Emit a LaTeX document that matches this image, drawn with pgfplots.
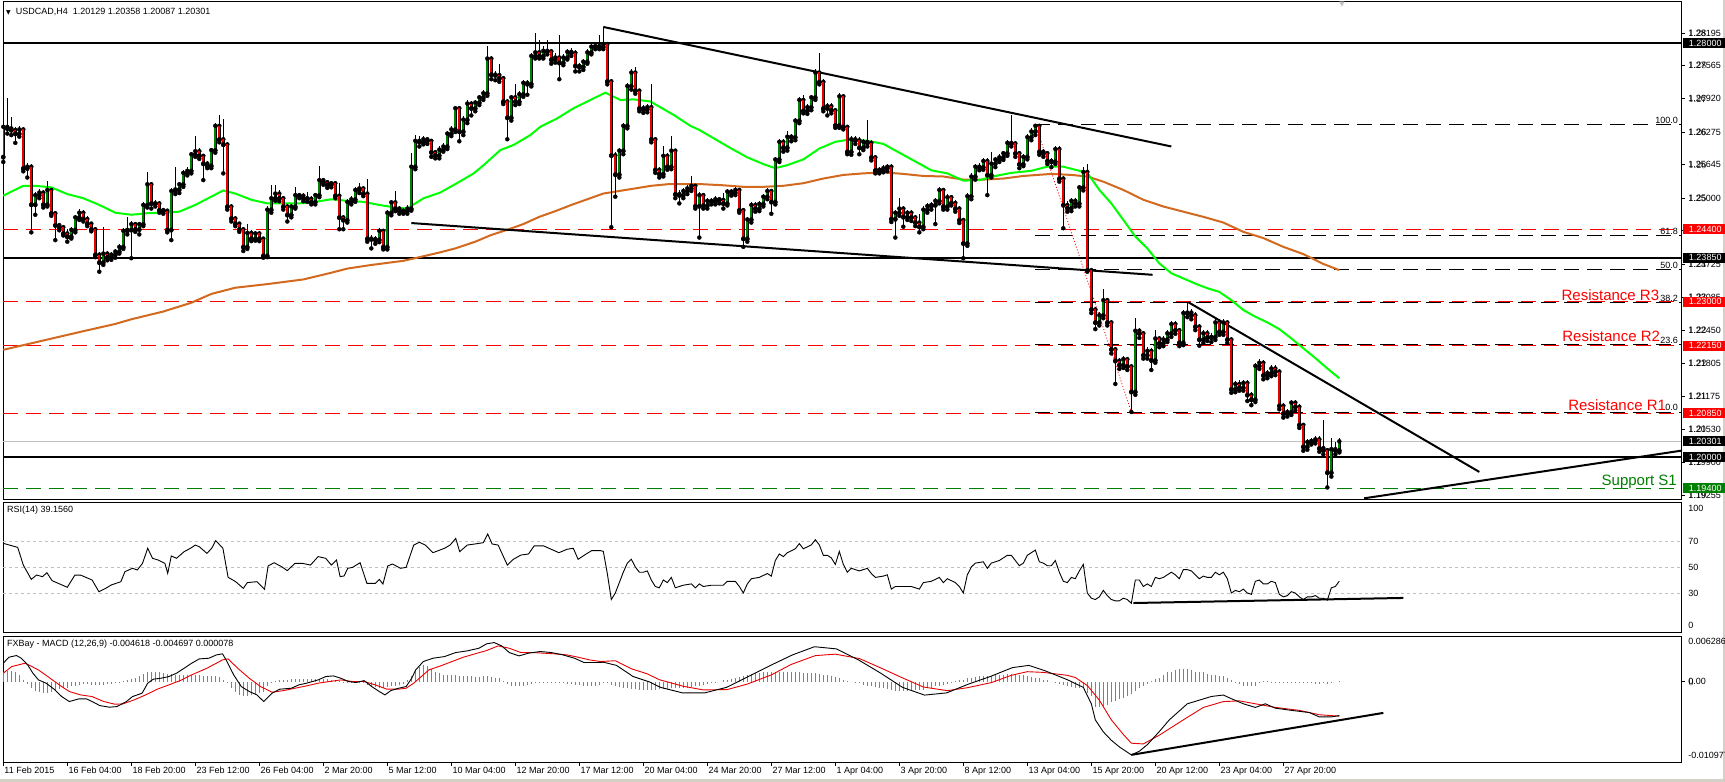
\documentclass[border=0pt]{standalone}
\usepackage{fontspec}
\setmainfont{Liberation Sans}
\newfontfamily\dejavu{DejaVu Sans}
\usepackage{pgfplots}
\usepackage{pgfplotstable}
\pgfplotsset{compat=1.18}

\definecolor{upgreen}{RGB}{0,128,0}
\definecolor{dnred}{RGB}{230,0,0}
\definecolor{malime}{RGB}{0,255,0}
\definecolor{maorange}{RGB}{210,105,30}
\definecolor{lvlred}{RGB}{255,0,0}
\definecolor{lvlgreen}{RGB}{0,128,0}
\definecolor{gridgray}{RGB}{192,192,192}
\definecolor{histgray}{RGB}{128,128,128}
\definecolor{framegray}{RGB}{212,208,200}
\newcommand{\lbl}{\fontsize{9}{10}\selectfont}

% USDCAD H4 candles: bar, open, high, low, close
\pgfplotstableread{
i o h l c
0 1.2580 1.2650 1.2570 1.2638
1 1.2638 1.2693 1.2625 1.2635
2 1.2635 1.2657 1.2622 1.2632
3 1.2632 1.2638 1.2607 1.2625
4 1.2625 1.2640 1.2619 1.2633
5 1.2633 1.2638 1.2552 1.2558
6 1.2558 1.2568 1.2540 1.2561
7 1.2561 1.2566 1.2434 1.2488
8 1.2488 1.2512 1.2468 1.2506
9 1.2506 1.2518 1.2500 1.2511
10 1.2511 1.2516 1.2482 1.2488
11 1.2488 1.2533 1.2484 1.2516
12 1.2516 1.2520 1.2466 1.2471
13 1.2471 1.2475 1.2419 1.2448
14 1.2448 1.2453 1.2438 1.2444
15 1.2444 1.2449 1.2428 1.2432
16 1.2432 1.2440 1.2416 1.2426
17 1.2426 1.2444 1.2422 1.2439
18 1.2439 1.2468 1.2434 1.2463
19 1.2463 1.2480 1.2458 1.2472
20 1.2472 1.2478 1.2455 1.2460
21 1.2460 1.2465 1.2446 1.2451
22 1.2451 1.2455 1.2436 1.2440
23 1.2440 1.2444 1.2386 1.2391
24 1.2391 1.2396 1.2358 1.2376
25 1.2376 1.2444 1.2371 1.2393
26 1.2393 1.2398 1.2380 1.2386
27 1.2386 1.2396 1.2381 1.2391
28 1.2391 1.2402 1.2385 1.2397
29 1.2397 1.2411 1.2393 1.2406
30 1.2406 1.2442 1.2402 1.2437
31 1.2437 1.2463 1.2430 1.2439
32 1.2439 1.2456 1.2384 1.2450
33 1.2450 1.2455 1.2435 1.2440
34 1.2440 1.2455 1.2430 1.2450
35 1.2450 1.2492 1.2446 1.2487
36 1.2487 1.2550 1.2482 1.2527
37 1.2527 1.2532 1.2480 1.2490
38 1.2490 1.2496 1.2484 1.2490
39 1.2490 1.2494 1.2472 1.2477
40 1.2477 1.2482 1.2470 1.2476
41 1.2476 1.2480 1.2434 1.2439
42 1.2439 1.2519 1.2419 1.2514
43 1.2514 1.2561 1.2508 1.2517
44 1.2517 1.2532 1.2510 1.2527
45 1.2527 1.2554 1.2522 1.2549
46 1.2549 1.2560 1.2544 1.2553
47 1.2553 1.2590 1.2548 1.2585
48 1.2585 1.2620 1.2580 1.2591
49 1.2591 1.2597 1.2576 1.2582
50 1.2582 1.2586 1.2535 1.2567
51 1.2567 1.2572 1.2558 1.2563
52 1.2563 1.2598 1.2558 1.2593
53 1.2593 1.2645 1.2588 1.2640
54 1.2640 1.2661 1.2608 1.2614
55 1.2614 1.2654 1.2548 1.2604
56 1.2604 1.2608 1.2478 1.2484
57 1.2484 1.2488 1.2455 1.2461
58 1.2461 1.2466 1.2446 1.2451
59 1.2451 1.2455 1.2435 1.2440
60 1.2440 1.2444 1.2398 1.2406
61 1.2406 1.2450 1.2402 1.2433
62 1.2433 1.2438 1.2417 1.2422
63 1.2422 1.2437 1.2418 1.2432
64 1.2432 1.2436 1.2417 1.2422
65 1.2422 1.2426 1.2385 1.2389
66 1.2389 1.2484 1.2386 1.2478
67 1.2478 1.2525 1.2472 1.2500
68 1.2500 1.2525 1.2495 1.2509
69 1.2509 1.2515 1.2494 1.2500
70 1.2500 1.2505 1.2478 1.2484
71 1.2484 1.2488 1.2455 1.2468
72 1.2468 1.2489 1.2463 1.2484
73 1.2484 1.2522 1.2480 1.2506
74 1.2506 1.2511 1.2500 1.2505
75 1.2505 1.2510 1.2494 1.2500
76 1.2500 1.2512 1.2493 1.2499
77 1.2499 1.2504 1.2488 1.2493
78 1.2493 1.2511 1.2488 1.2506
79 1.2506 1.2563 1.2502 1.2535
80 1.2535 1.2540 1.2526 1.2531
81 1.2531 1.2535 1.2520 1.2526
82 1.2526 1.2534 1.2521 1.2529
83 1.2529 1.2533 1.2500 1.2505
84 1.2505 1.2530 1.2440 1.2463
85 1.2463 1.2468 1.2440 1.2458
86 1.2458 1.2498 1.2453 1.2493
87 1.2493 1.2505 1.2488 1.2498
88 1.2498 1.2521 1.2493 1.2516
89 1.2516 1.2530 1.2510 1.2519
90 1.2519 1.2524 1.2504 1.2509
91 1.2509 1.2538 1.2416 1.2422
92 1.2422 1.2428 1.2403 1.2421
93 1.2421 1.2427 1.2412 1.2420
94 1.2420 1.2443 1.2415 1.2437
95 1.2437 1.2441 1.2401 1.2406
96 1.2406 1.2477 1.2401 1.2472
97 1.2472 1.2497 1.2467 1.2492
98 1.2492 1.2513 1.2475 1.2480
99 1.2480 1.2485 1.2470 1.2476
100 1.2476 1.2481 1.2470 1.2475
101 1.2475 1.2486 1.2470 1.2480
102 1.2480 1.2587 1.2476 1.2561
103 1.2561 1.2622 1.2556 1.2611
104 1.2611 1.2620 1.2600 1.2609
105 1.2609 1.2620 1.2604 1.2614
106 1.2614 1.2618 1.2605 1.2611
107 1.2611 1.2615 1.2580 1.2589
108 1.2589 1.2594 1.2577 1.2583
109 1.2583 1.2600 1.2577 1.2594
110 1.2594 1.2606 1.2590 1.2600
111 1.2600 1.2630 1.2595 1.2625
112 1.2625 1.2640 1.2620 1.2633
113 1.2633 1.2679 1.2628 1.2674
114 1.2674 1.2678 1.2610 1.2629
115 1.2629 1.2658 1.2622 1.2652
116 1.2652 1.2690 1.2645 1.2683
117 1.2683 1.2688 1.2660 1.2674
118 1.2674 1.2690 1.2668 1.2685
119 1.2685 1.2700 1.2680 1.2695
120 1.2695 1.2710 1.2690 1.2703
121 1.2703 1.2794 1.2698 1.2770
122 1.2770 1.2775 1.2730 1.2739
123 1.2739 1.2745 1.2728 1.2738
124 1.2738 1.2760 1.2725 1.2732
125 1.2732 1.2736 1.2682 1.2687
126 1.2687 1.2692 1.2614 1.2656
127 1.2656 1.2700 1.2650 1.2695
128 1.2695 1.2720 1.2680 1.2687
129 1.2687 1.2707 1.2682 1.2701
130 1.2701 1.2728 1.2696 1.2723
131 1.2723 1.2728 1.2700 1.2721
132 1.2721 1.2780 1.2716 1.2775
133 1.2775 1.2819 1.2770 1.2782
134 1.2782 1.2805 1.2770 1.2775
135 1.2775 1.2795 1.2770 1.2785
136 1.2785 1.2806 1.2778 1.2784
137 1.2784 1.2789 1.2760 1.2768
138 1.2768 1.2780 1.2762 1.2772
139 1.2772 1.2815 1.2730 1.2762
140 1.2762 1.2778 1.2757 1.2772
141 1.2772 1.2789 1.2768 1.2783
142 1.2783 1.2790 1.2775 1.2781
143 1.2781 1.2786 1.2745 1.2756
144 1.2756 1.2762 1.2745 1.2754
145 1.2754 1.2770 1.2748 1.2764
146 1.2764 1.2788 1.2760 1.2782
147 1.2782 1.2800 1.2778 1.2793
148 1.2793 1.2800 1.2788 1.2794
149 1.2794 1.2815 1.2788 1.2793
150 1.2793 1.2830 1.2788 1.2798
151 1.2798 1.2802 1.2720 1.2726
152 1.2726 1.2730 1.2444 1.2583
153 1.2583 1.2590 1.2503 1.2546
154 1.2546 1.2597 1.2540 1.2592
155 1.2592 1.2645 1.2585 1.2640
156 1.2640 1.2722 1.2635 1.2717
157 1.2717 1.2750 1.2710 1.2743
158 1.2743 1.2754 1.2702 1.2708
159 1.2708 1.2712 1.2668 1.2674
160 1.2674 1.2680 1.2665 1.2672
161 1.2672 1.2682 1.2666 1.2676
162 1.2676 1.2721 1.2608 1.2614
163 1.2614 1.2618 1.2549 1.2555
164 1.2555 1.2560 1.2540 1.2547
165 1.2547 1.2600 1.2542 1.2582
166 1.2582 1.2587 1.2555 1.2561
167 1.2561 1.2620 1.2556 1.2592
168 1.2592 1.2596 1.2500 1.2508
169 1.2508 1.2515 1.2490 1.2506
170 1.2506 1.2520 1.2500 1.2514
171 1.2514 1.2525 1.2508 1.2519
172 1.2519 1.2543 1.2514 1.2524
173 1.2524 1.2528 1.2480 1.2485
174 1.2485 1.2512 1.2424 1.2506
175 1.2506 1.2511 1.2480 1.2486
176 1.2486 1.2500 1.2480 1.2495
177 1.2495 1.2500 1.2488 1.2494
178 1.2494 1.2504 1.2488 1.2498
179 1.2498 1.2503 1.2490 1.2497
180 1.2497 1.2510 1.2480 1.2490
181 1.2490 1.2518 1.2486 1.2513
182 1.2513 1.2518 1.2505 1.2511
183 1.2511 1.2522 1.2506 1.2516
184 1.2516 1.2520 1.2472 1.2477
185 1.2477 1.2481 1.2406 1.2422
186 1.2422 1.2464 1.2416 1.2459
187 1.2459 1.2492 1.2453 1.2487
188 1.2487 1.2492 1.2474 1.2480
189 1.2480 1.2495 1.2475 1.2489
190 1.2489 1.2508 1.2484 1.2503
191 1.2503 1.2520 1.2498 1.2514
192 1.2514 1.2518 1.2470 1.2493
193 1.2493 1.2580 1.2488 1.2575
194 1.2575 1.2615 1.2570 1.2609
195 1.2609 1.2614 1.2590 1.2598
196 1.2598 1.2630 1.2592 1.2619
197 1.2619 1.2625 1.2610 1.2618
198 1.2618 1.2656 1.2612 1.2650
199 1.2650 1.2696 1.2645 1.2690
200 1.2690 1.2700 1.2664 1.2669
201 1.2669 1.2682 1.2663 1.2676
202 1.2676 1.2700 1.2670 1.2695
203 1.2695 1.2750 1.2690 1.2743
204 1.2743 1.2781 1.2720 1.2725
205 1.2725 1.2730 1.2668 1.2674
206 1.2674 1.2685 1.2660 1.2678
207 1.2678 1.2684 1.2664 1.2670
208 1.2670 1.2675 1.2636 1.2641
209 1.2641 1.2703 1.2636 1.2697
210 1.2697 1.2702 1.2633 1.2638
211 1.2638 1.2642 1.2585 1.2590
212 1.2590 1.2620 1.2584 1.2614
213 1.2614 1.2620 1.2605 1.2612
214 1.2612 1.2618 1.2585 1.2598
215 1.2598 1.2615 1.2593 1.2609
216 1.2609 1.2652 1.2600 1.2607
217 1.2607 1.2612 1.2573 1.2579
218 1.2579 1.2584 1.2548 1.2554
219 1.2554 1.2560 1.2548 1.2555
220 1.2555 1.2564 1.2550 1.2558
221 1.2558 1.2566 1.2552 1.2561
222 1.2561 1.2566 1.2454 1.2460
223 1.2460 1.2478 1.2424 1.2472
224 1.2472 1.2500 1.2466 1.2480
225 1.2480 1.2485 1.2445 1.2464
226 1.2464 1.2478 1.2458 1.2472
227 1.2472 1.2478 1.2456 1.2463
228 1.2463 1.2468 1.2446 1.2453
229 1.2453 1.2470 1.2434 1.2445
230 1.2445 1.2484 1.2440 1.2478
231 1.2478 1.2490 1.2472 1.2485
232 1.2485 1.2492 1.2478 1.2487
233 1.2487 1.2500 1.2450 1.2495
234 1.2495 1.2522 1.2490 1.2516
235 1.2516 1.2520 1.2478 1.2484
236 1.2484 1.2508 1.2478 1.2502
237 1.2502 1.2507 1.2486 1.2491
238 1.2491 1.2496 1.2474 1.2480
239 1.2480 1.2485 1.2452 1.2458
240 1.2458 1.2462 1.2384 1.2413
241 1.2413 1.2510 1.2408 1.2504
242 1.2504 1.2548 1.2498 1.2542
243 1.2542 1.2567 1.2536 1.2561
244 1.2561 1.2568 1.2554 1.2560
245 1.2560 1.2578 1.2555 1.2572
246 1.2572 1.2577 1.2506 1.2545
247 1.2545 1.2590 1.2540 1.2567
248 1.2567 1.2580 1.2560 1.2575
249 1.2575 1.2585 1.2570 1.2579
250 1.2579 1.2592 1.2574 1.2587
251 1.2587 1.2612 1.2582 1.2607
252 1.2607 1.2661 1.2600 1.2606
253 1.2606 1.2610 1.2580 1.2587
254 1.2587 1.2592 1.2558 1.2566
255 1.2566 1.2586 1.2562 1.2580
256 1.2580 1.2624 1.2575 1.2618
257 1.2618 1.2636 1.2612 1.2629
258 1.2629 1.2643 1.2622 1.2640
259 1.2640 1.2644 1.2584 1.2590
260 1.2590 1.2596 1.2580 1.2587
261 1.2587 1.2592 1.2566 1.2572
262 1.2572 1.2578 1.2560 1.2571
263 1.2571 1.2600 1.2566 1.2595
264 1.2595 1.2600 1.2532 1.2538
265 1.2538 1.2542 1.2442 1.2487
266 1.2487 1.2495 1.2474 1.2481
267 1.2481 1.2500 1.2475 1.2495
268 1.2495 1.2500 1.2484 1.2490
269 1.2490 1.2526 1.2484 1.2521
270 1.2521 1.2560 1.2515 1.2551
271 1.2551 1.2567 1.2358 1.2361
272 1.2361 1.2365 1.2278 1.2285
273 1.2285 1.2290 1.2247 1.2260
274 1.2260 1.2280 1.2254 1.2274
275 1.2274 1.2325 1.2268 1.2303
276 1.2303 1.2307 1.2254 1.2260
277 1.2260 1.2264 1.2200 1.2208
278 1.2208 1.2212 1.2141 1.2186
279 1.2186 1.2192 1.2170 1.2178
280 1.2178 1.2195 1.2172 1.2189
281 1.2189 1.2194 1.2168 1.2175
282 1.2175 1.2180 1.2087 1.2126
283 1.2126 1.2268 1.2120 1.2244
284 1.2244 1.2250 1.2230 1.2239
285 1.2239 1.2244 1.2190 1.2197
286 1.2197 1.2212 1.2190 1.2205
287 1.2205 1.2210 1.2168 1.2187
288 1.2187 1.2245 1.2182 1.2229
289 1.2229 1.2234 1.2212 1.2220
290 1.2220 1.2233 1.2214 1.2227
291 1.2227 1.2245 1.2222 1.2239
292 1.2239 1.2263 1.2232 1.2257
293 1.2257 1.2262 1.2238 1.2245
294 1.2245 1.2250 1.2214 1.2221
295 1.2221 1.2284 1.2216 1.2278
296 1.2278 1.2300 1.2270 1.2279
297 1.2279 1.2285 1.2266 1.2274
298 1.2274 1.2280 1.2245 1.2252
299 1.2252 1.2257 1.2215 1.2227
300 1.2227 1.2246 1.2220 1.2239
301 1.2239 1.2245 1.2224 1.2231
302 1.2231 1.2240 1.2222 1.2232
303 1.2232 1.2266 1.2226 1.2260
304 1.2260 1.2266 1.2236 1.2242
305 1.2242 1.2266 1.2236 1.2260
306 1.2260 1.2265 1.2220 1.2227
307 1.2227 1.2232 1.2124 1.2131
308 1.2131 1.2147 1.2125 1.2141
309 1.2141 1.2148 1.2128 1.2134
310 1.2134 1.2149 1.2128 1.2143
311 1.2143 1.2148 1.2108 1.2120
312 1.2120 1.2126 1.2100 1.2111
313 1.2111 1.2182 1.2106 1.2176
314 1.2176 1.2189 1.2170 1.2182
315 1.2182 1.2187 1.2150 1.2158
316 1.2158 1.2168 1.2152 1.2162
317 1.2162 1.2177 1.2156 1.2171
318 1.2171 1.2177 1.2158 1.2165
319 1.2165 1.2170 1.2092 1.2099
320 1.2099 1.2104 1.2076 1.2084
321 1.2084 1.2093 1.2078 1.2087
322 1.2087 1.2110 1.2081 1.2105
323 1.2105 1.2110 1.2090 1.2097
324 1.2097 1.2102 1.2056 1.2062
325 1.2062 1.2066 1.2012 1.2020
326 1.2020 1.2035 1.2014 1.2029
327 1.2029 1.2037 1.2024 1.2031
328 1.2031 1.2040 1.2026 1.2034
329 1.2034 1.2040 1.2010 1.2017
330 1.2017 1.2071 1.2005 1.2013
331 1.2013 1.2018 1.1941 1.1970
332 1.1970 1.2036 1.1962 1.2015
333 1.2015 1.2028 1.2005 1.2013
334 1.20129 1.20358 1.20087 1.20301
}\candles

\pgfplotsset{
  mtpanel/.style={
    scale only axis, width=1678pt, anchor=north west,
    xmin=-0.075, xmax=419.425,
    axis line style={black, line width=0.8pt},
    clip mode=individual,
    xtick=\empty, ytick=\empty,
    tick style={black, line width=0.8pt},
    tick align=outside, major tick length=4pt,
  },
  hline/.style={line width=#1, forget plot},
  wick/.style={only marks, mark=none, forget plot,
    error bars/.cd, y dir=plus, y explicit, error mark=none,
    error bar style={black, line width=0.9pt}},
  body/.style 2 args={only marks, mark=none, forget plot,
    error bars/.cd, y dir=plus, y explicit, error mark=none,
    error bar style={#1, line width=#2}},
}
\tikzset{
  pricebox/.style={anchor=west, inner xsep=4.7pt, inner ysep=0pt,
    minimum width=44pt, minimum height=10pt, text height=6.5pt, text depth=0pt,
    fill=#1, text=white, font=\lbl, xshift=2pt},
  mtdash/.style={dash pattern=on 15pt off 8pt},
}

\begin{document}
\begin{tikzpicture}
\path[use as bounding box, fill=white] (0pt,0pt) rectangle (1725pt,-782pt);
\fill[framegray] (0pt,-779pt) rectangle (1725pt,-782pt);
\fill[framegray] (1723pt,0pt) rectangle (1725pt,-782pt);

% ---------------- price panel ----------------
\begin{axis}[mtpanel, at={(3pt,-1pt)}, height=498pt,
  ymin=1.191867, ymax=1.288117,
  ytick={1.28195,1.27565,1.26920,1.26275,1.25645,1.25000,1.24370,1.23725,1.23085,1.22450,1.21805,1.21175,1.20530,1.19900,1.19255},
  yticklabel={}, ytick pos=right]

% level lines across the chart
\addplot[hline=0.8pt, gridgray] coordinates {(-0.075,1.20301) (419.425,1.20301)};
\addplot[hline=0.8pt, lvlred, mtdash] coordinates {(-0.075,1.2440) (419.425,1.2440)};
\addplot[hline=0.8pt, lvlred, mtdash] coordinates {(-0.075,1.2300) (419.425,1.2300)};
\addplot[hline=0.8pt, lvlred, mtdash] coordinates {(-0.075,1.2215) (419.425,1.2215)};
\addplot[hline=0.8pt, lvlred, mtdash] coordinates {(-0.075,1.2085) (419.425,1.2085)};
\addplot[hline=0.8pt, lvlgreen, mtdash] coordinates {(-0.075,1.1940) (419.425,1.1940)};
% fibonacci retracement 1.2643 -> 1.20855
\addplot[hline=0.8pt, black, mtdash] coordinates {(258,1.26430) (419.425,1.26430)};
\addplot[hline=0.8pt, black, mtdash] coordinates {(258,1.24280) (419.425,1.24280)};
\addplot[hline=0.8pt, black, mtdash] coordinates {(258,1.23630) (419.425,1.23630)};
\addplot[hline=0.8pt, black, mtdash] coordinates {(258,1.22985) (419.425,1.22985)};
\addplot[hline=0.8pt, black, mtdash] coordinates {(258,1.22171) (419.425,1.22171)};
\addplot[hline=0.8pt, black, mtdash] coordinates {(258,1.20870) (419.425,1.20870)};
\addplot[hline=0.8pt, lvlred, dash pattern=on 1pt off 2pt] coordinates {(258,1.2643) (282,1.2087)};
% solid horizontal levels
\addplot[hline=2pt, black] coordinates {(-0.075,1.2800) (419.425,1.2800)};
\addplot[hline=2pt, black] coordinates {(-0.075,1.2385) (419.425,1.2385)};
\addplot[hline=2pt, black] coordinates {(-0.075,1.2000) (419.425,1.2000)};

% moving averages
\addplot[maorange, line width=2pt, forget plot] coordinates {
(0,1.2207) (10,1.2225) (20,1.2243) (28,1.2257) (32,1.2266) (40,1.2281) (47,1.2298) (52,1.2315) (58,1.2327) (66,1.2334) (75,1.2343) (82,1.2356) (86,1.2364) (92,1.2371) (100,1.2379) (104,1.2386) (109,1.2395) (113,1.2403) (118,1.2416) (122,1.2429) (126,1.2439) (130,1.2450) (134,1.2464) (138,1.2475) (142,1.2487) (146,1.2498) (150,1.2509) (154,1.2514) (158,1.2519) (162,1.2524) (166,1.2527) (171,1.2527) (175,1.2527) (180,1.2525) (185,1.2522) (190,1.2522) (195,1.2524) (200,1.2529) (205,1.2538) (210,1.2545) (215,1.2548) (220,1.2550) (225,1.2547) (230,1.2543) (235,1.2542) (240,1.2536) (245,1.2536) (250,1.2538) (255,1.2543) (262,1.2547) (267,1.2545) (271,1.2542) (275,1.2532) (280,1.2516) (285,1.2497) (290,1.2484) (295,1.2474) (300,1.2464) (305,1.2453) (310,1.2435) (315,1.2423) (320,1.2406) (325,1.2392) (330,1.2373) (334,1.2361)};
\addplot[malime, line width=2pt, forget plot] coordinates {
(0,1.2505) (5,1.2524) (8,1.2524) (12,1.2521) (16,1.2508) (20,1.2500) (24,1.2487) (28,1.2472) (32,1.2468) (36,1.2471) (40,1.2472) (44,1.2474) (48,1.2487) (52,1.2503) (55,1.2515) (58,1.2509) (62,1.2497) (66,1.2490) (70,1.2490) (74,1.2490) (78,1.2493) (82,1.2498) (86,1.2495) (90,1.2493) (94,1.2487) (98,1.2482) (100.9,1.2480) (105.1,1.2500) (109.25,1.2511) (113.4,1.2529) (117.6,1.2548) (120.1,1.2564) (124.25,1.2593) (127.6,1.2603) (131.75,1.2622) (134.25,1.2638) (138.4,1.2654) (142.6,1.2674) (147.6,1.2693) (150.5,1.2704) (154.25,1.2690) (157.6,1.2691) (161.75,1.2687) (167.6,1.2661) (171.75,1.2640) (174,1.2632) (178,1.2614) (182,1.2596) (186,1.2579) (190,1.2566) (193,1.2558) (196,1.2564) (200,1.2575) (204,1.2596) (208,1.2609) (212,1.2614) (216,1.2611) (220,1.2605) (224,1.2588) (228,1.2571) (232,1.2554) (236,1.2548) (240,1.2534) (244,1.2535) (248,1.2543) (252,1.2549) (257,1.2553) (261,1.2561) (265,1.2561) (268,1.2555) (271,1.2549) (274,1.2516) (277,1.2490) (280,1.2458) (283,1.2426) (286,1.2403) (289,1.2374) (292,1.2355) (295,1.2345) (298,1.2335) (301,1.2326) (304,1.2319) (307,1.2303) (310,1.2284) (313,1.2271) (316,1.2260) (319,1.2247) (322,1.2229) (325,1.2210) (328,1.2191) (331,1.2171) (334,1.2152)};

% trend lines
\addplot[black, line width=2pt, forget plot] coordinates {(150,1.2831) (292,1.2600)};
\addplot[black, line width=2pt, forget plot] coordinates {(102,1.2452) (287.3,1.2352)};
\addplot[black, line width=2pt, forget plot] coordinates {(296.25,1.2299) (369,1.1971)};
\addplot[black, line width=2pt, forget plot] coordinates {(340.2,1.1920) (419.425,1.2012)};

% candles
\addplot[wick] table[x=i, y=l, y error expr={\thisrow{h}-\thisrow{l}}] {\candles};
\addplot[body={black}{3.4pt}] table[x=i, y expr={min(\thisrow{o},\thisrow{c})-0.00012}, y error expr={abs(\thisrow{c}-\thisrow{o})+0.00024}] {\candles};
\addplot[body={upgreen}{2.2pt}] table[x=i, y=o, y error expr={max(\thisrow{c}-\thisrow{o},0)}] {\candles};
\addplot[body={dnred}{2.2pt}] table[x=i, y=c, y error expr={max(\thisrow{o}-\thisrow{c},0)}] {\candles};

% right price scale
\pgfplotsinvokeforeach{1.28195,1.27565,1.26920,1.26275,1.25645,1.25000,1.23725,1.23085,1.22450,1.21805,1.21175,1.20530,1.19900,1.19255}{
  \node[anchor=west, inner sep=0pt, font=\lbl] at (axis cs:419.425,#1) [xshift=7pt] {#1};}
\node[pricebox=black] at (axis cs:419.425,1.28000) {1.28000};
\node[pricebox=lvlred] at (axis cs:419.425,1.24400) {1.24400};
\node[pricebox=black] at (axis cs:419.425,1.23850) {1.23850};
\node[pricebox=lvlred] at (axis cs:419.425,1.23000) {1.23000};
\node[pricebox=lvlred] at (axis cs:419.425,1.22150) {1.22150};
\node[pricebox=lvlred] at (axis cs:419.425,1.20850) {1.20850};
\node[pricebox=black] at (axis cs:419.425,1.20301) {1.20301};
\node[pricebox=black] at (axis cs:419.425,1.20000) {1.20000};
\node[pricebox=lvlgreen] at (axis cs:419.425,1.19400) {1.19400};

% level captions
\node[anchor=base east, inner sep=0pt, text=lvlred, font=\fontsize{15}{16}\selectfont] at (axis cs:414.0,1.23020) {Resistance R3};
\node[anchor=base east, inner sep=0pt, text=lvlred, font=\fontsize{15}{16}\selectfont] at (axis cs:414.2,1.22227) {Resistance R2};
\node[anchor=base east, inner sep=0pt, text=lvlred, font=\fontsize{15}{16}\selectfont] at (axis cs:415.7,1.20893) {Resistance R1};
\node[anchor=base east, inner sep=0pt, text=lvlgreen, font=\fontsize{15}{16}\selectfont] at (axis cs:418.4,1.19457) {Support S1};
\node[anchor=base east, inner sep=0pt, font=\lbl] at (axis cs:418.7,1.26450) {100.0};
\node[anchor=base east, inner sep=0pt, font=\lbl] at (axis cs:418.7,1.24300) {61.8};
\node[anchor=base east, inner sep=0pt, font=\lbl] at (axis cs:418.7,1.23650) {50.0};
\node[anchor=base east, inner sep=0pt, font=\lbl] at (axis cs:418.7,1.23005) {38.2};
\node[anchor=base east, inner sep=0pt, font=\lbl] at (axis cs:418.7,1.22191) {23.6};
\node[anchor=base east, inner sep=0pt, font=\lbl] at (axis cs:418.7,1.20890) {0.0};
\end{axis}

% ---------------- RSI panel ----------------
\begin{axis}[mtpanel, at={(3pt,-502pt)}, height=130pt, ymin=0, ymax=100]
\addplot[hline=0.6pt, gridgray, dash pattern=on 3pt off 3pt] coordinates {(-0.075,70) (419.425,70)};
\addplot[hline=0.6pt, gridgray, dash pattern=on 3pt off 3pt] coordinates {(-0.075,50) (419.425,50)};
\addplot[hline=0.6pt, gridgray, dash pattern=on 3pt off 3pt] coordinates {(-0.075,30) (419.425,30)};
\addplot[black, line width=0.9pt, forget plot] coordinates {
(0,68.2) (3.6,65.1) (5,51.5) (7,40.5) (8.3,43.8) (9.8,42.6) (10.9,45.6) (12.2,39.5) (16,34.4) (17.9,43.8) (19.3,43.8) (22.2,40.0) (23.9,31.0) (25.6,33.6) (27,36.2) (29.4,38.7) (30.4,46.4) (32.3,49.0) (33.5,47.7) (34.8,52.8) (36.1,64.4) (37.3,56.7) (38.7,55.4) (40.4,52.8) (41.1,45.1) (42,58.5) (43.3,56.7) (45.2,61.8) (46.8,64.4) (48,66.9) (49,65.6) (50.9,60.5) (52.1,64.4) (53.1,70.3) (54.9,64.4) (56.2,42.1) (58.1,38.7) (60,33.6) (61,38.0) (63.4,38.7) (65.3,32.8) (66.2,50.8) (67.7,53.3) (69.6,50.2) (71,47.2) (72.9,52.8) (74.8,52.8) (76.8,51.5) (78.7,58.0) (80.6,56.7) (82,51.5) (83.3,55.4) (84.2,42.6) (85.2,43.1) (86.1,49.0) (87.3,49.7) (89.2,53.3) (90.9,37.4) (93,37.4) (94,40.5) (94.9,36.9) (96.1,50.8) (97.3,52.3) (99.3,49.0) (100.7,49.7) (102.6,66.9) (104,69.0) (105.5,66.9) (107.4,61.0) (110.3,64.4) (111.7,66.9) (113.1,72.0) (114.1,61.8) (116,66.9) (117.9,67.7) (120,68.7) (121.1,75.4) (122.2,67.7) (123.7,66.9) (126,51.5) (127.5,55.9) (129.4,59.2) (131.3,60.0) (132.7,66.2) (135.1,66.2) (137,63.6) (138.9,61.0) (140.9,63.6) (142.5,64.4) (143.7,55.9) (145.7,60.0) (147.1,62.6) (149.3,62.6)
(150,62) (151,45) (152,25) (153,30) (154,38) (155,46) (156,53) (157,56) (158,50) (159,46) (160,46) (161,47) (162,40) (163,35) (164,34) (165,40) (166,38) (167,42) (168,34) (170,36) (172,37) (173,34) (174,37) (175,35) (177,36) (180,36) (181,39) (183,39) (184,35) (185,30) (186,37) (187,41) (189,42) (191,45) (192,43) (193,55) (194,60) (195,58) (196,61) (198,64) (199,68) (200,64) (202,67) (203,71) (204,67) (205,59) (206,59) (207,57) (208,52) (209,62) (210,52) (211,46) (212,49) (214,47) (216,49) (217,45) (218,42) (220,43) (221,44) (222,33) (223,35) (225,35) (227,35) (229,33) (230,38) (232,39) (234,42) (235,38) (236,41) (238,38) (239,35) (240,30) (241,44) (242,50) (243,53) (245,54) (246,49) (247,53) (249,55) (251,59) (252,59) (253,55) (254,51) (255,53) (256,59) (257,61) (258,63) (259,54) (260,53) (261,51) (262,51) (263,55) (264,46) (265,39) (266,38) (267,42) (268,41) (269,47) (270,52) (271,30) (272,26) (273,25) (274,27) (275,32) (276,28) (277,25) (278,24) (279,24) (280,26) (281,25) (282,22) (283,40) (284,40) (285,35) (286,37) (287,35) (288,42) (289,41) (290,42) (291,44) (292,46) (293,44) (294,41) (295,48) (296,48) (297,47) (298,44) (299,41) (300,43) (301,42) (302,42) (303,46) (304,44) (305,46) (306,41) (307,30) (308,32) (309,31) (310,33) (311,30) (312,29) (313,39) (314,40) (315,37) (316,37) (317,39) (318,38) (319,29) (320,27) (321,28) (322,31) (323,30) (324,27) (325,25) (326,27) (327,27) (328,28) (329,26) (330,26) (331,24.5) (332,34) (333,35) (334,39.156)};
\addplot[black, line width=2pt, forget plot] coordinates {(282.5,22.3) (350,26.2)};
\node[anchor=west, inner sep=0pt, font=\lbl] at (axis cs:419.425,95) [xshift=7pt] {100};
\node[anchor=west, inner sep=0pt, font=\lbl] at (axis cs:419.425,70) [xshift=7pt] {70};
\node[anchor=west, inner sep=0pt, font=\lbl] at (axis cs:419.425,50) [xshift=7pt] {50};
\node[anchor=west, inner sep=0pt, font=\lbl] at (axis cs:419.425,30) [xshift=7pt] {30};
\node[anchor=west, inner sep=0pt, font=\lbl] at (axis cs:419.425,5) [xshift=7pt] {0};
\end{axis}

% ---------------- MACD panel ----------------
\begin{axis}[mtpanel, at={(3pt,-636pt)}, height=126pt,
  ymin=-0.010977, ymax=0.006286, scaled y ticks=false,
  ytick={0}, yticklabel={}, ytick pos=right,
  xtick={0,16,...,320}, xtick pos=bottom,
  xticklabels={11 Feb 2015,16 Feb 04:00,18 Feb 20:00,23 Feb 12:00,26 Feb 04:00,2 Mar 20:00,5 Mar 12:00,10 Mar 04:00,12 Mar 20:00,17 Mar 12:00,20 Mar 04:00,24 Mar 20:00,27 Mar 12:00,1 Apr 04:00,3 Apr 20:00,8 Apr 12:00,13 Apr 04:00,15 Apr 20:00,20 Apr 12:00,23 Apr 04:00,27 Apr 20:00},
  xticklabel style={anchor=north west, inner sep=0pt, font=\lbl, xshift=1pt, yshift=-1pt}]
\addplot[ycomb, histgray, line width=0.9pt, forget plot] coordinates {
(0,0.0014) (1,0.0015) (2,0.0015) (3,0.0013) (4,0.0009) (5,0.0003) (6,-0.0003) (7,-0.0008) (8,-0.0012) (9,-0.0014) (10,-0.0015) (11,-0.0015) (12,-0.0014) (13,-0.0012) (14,-0.0010) (15,-0.0009) (16,-0.0008) (17,-0.0006) (18,-0.0005) (19,-0.0004) (20,-0.00035) (21,-0.00035) (22,-0.0004) (23,-0.00045) (24,-0.00045) (25,-0.0004) (26,-0.0003) (27,-0.00025) (28,-0.0002) (29,-0.0001) (30,0.0001) (31,0.00025) (32,0.0004) (33,0.0006) (34,0.0008) (35,0.0011) (36,0.0013) (37,0.0014) (38,0.0014) (39,0.0013) (40,0.0012) (41,0.0011) (42,0.0011) (43,0.0010) (44,0.0010) (45,0.0010) (46,0.0010) (47,0.0009) (48,0.0009) (49,0.0009) (50,0.00085) (51,0.0008) (52,0.0008) (53,0.0008) (54,0.0007) (55,0.0003) (56,-0.0002) (57,-0.0008) (58,-0.0014) (59,-0.0018) (60,-0.0020) (61,-0.0019) (62,-0.0018) (63,-0.0016) (64,-0.0015) (65,-0.0014) (66,-0.0005) (67,-0.0002) (68,0.0001) (69,0.0002) (70,0.0003) (71,0.0003) (72,0.00035) (73,0.00035) (74,0.0004) (75,0.0004) (76,0.00045) (77,0.00045) (78,0.00045) (79,0.0004) (80,0.0004) (81,0.00035) (82,0.0003) (83,0.0003) (84,0.0001) (85,-0.0001) (86,-0.0001) (87,-0.0002) (88,-0.0002) (89,-0.0001) (90,-0.0002) (91,-0.0004) (92,-0.0006) (93,-0.0007) (94,-0.0008) (95,-0.0008) (96,-0.0007) (97,-0.0006) (98,-0.0005) (99,-0.0004) (100,-0.0003) (101,0.0003) (102,0.0008) (103,0.0015) (104,0.0020) (105,0.0023) (106,0.0022) (107,0.0018) (108,0.0014) (109,0.0012) (110,0.0010) (111,0.0009) (112,0.0009) (113,0.0009) (114,0.00085) (115,0.0008) (116,0.0008) (117,0.00075) (118,0.0007) (119,0.0007) (120,0.0008) (121,0.0008) (122,0.0007) (123,0.0006) (124,0.0005) (125,0.0001) (126,-0.0003) (127,-0.0005) (128,-0.0006) (129,-0.0006) (130,-0.0005) (131,-0.0004) (132,-0.0003) (133,-0.0002) (134,-0.0001) (135,-0.0001) (136,-0.00005) (137,-0.0001) (138,-0.0001) (139,-0.00015) (140,-0.0002) (141,-0.0003) (142,-0.00035) (143,-0.0004) (144,-0.00045) (145,-0.0005) (146,-0.0005) (147,-0.0005) (148,-0.0005) (149,-0.00045)
(150,-0.0001) (151,-0.0002) (152,-0.0004) (153,-0.0006) (154,-0.0007) (155,-0.0008) (156,-0.0009) (157,-0.0010) (158,-0.0010) (159,-0.0011) (160,-0.0011) (161,-0.0011) (162,-0.0011) (163,-0.0011) (164,-0.0010) (165,-0.0010) (166,-0.0010) (167,-0.0009) (168,-0.0009) (169,-0.0009) (170,-0.0009) (171,-0.0008) (172,-0.0007) (173,-0.0006) (174,-0.0005) (175,-0.0004) (176,-0.0003) (177,-0.0002) (178,-0.0001) (179,0.0000) (180,0.0002) (181,0.0003) (182,0.0004) (183,0.0006) (184,0.0007) (185,0.0008) (186,0.0010) (187,0.0011) (188,0.0012) (189,0.0012) (190,0.0013) (191,0.0013) (192,0.0013) (193,0.0014) (194,0.0014) (195,0.0013) (196,0.0013) (197,0.0013) (198,0.0013) (199,0.0013) (200,0.0012) (201,0.0012) (202,0.0012) (203,0.0012) (204,0.0011) (205,0.0010) (206,0.0009) (207,0.0008) (208,0.0007) (209,0.0005) (210,0.0003) (211,0.0001) (212,0.0000) (213,-0.0001) (214,-0.0002) (215,-0.0004) (216,-0.0005) (217,-0.0006) (218,-0.0007) (219,-0.0008) (220,-0.0009) (221,-0.0010) (222,-0.0011) (223,-0.0012) (224,-0.0012) (225,-0.00125) (226,-0.0012) (227,-0.0012) (228,-0.0011) (229,-0.0011) (230,-0.0011) (231,-0.0009) (232,-0.0008) (233,-0.0006) (234,-0.0005) (235,-0.0004) (236,-0.0003) (237,-0.0001) (238,0.0001) (239,0.0002) (240,0.0003) (241,0.0005) (242,0.0006) (243,0.0007) (244,0.0008) (245,0.0008) (246,0.00085) (247,0.00085) (248,0.0009) (249,0.0010) (250,0.0010) (251,0.00105) (252,0.00105) (253,0.0010) (254,0.00095) (255,0.0009) (256,0.00085) (257,0.0007) (258,0.0006) (259,0.0005) (260,0.0003) (261,0.0002) (262,0.0000) (263,-0.0001) (264,-0.0003) (265,-0.0004) (266,-0.0006) (267,-0.0007) (268,-0.0008) (269,-0.0009) (270,-0.0008) (271,-0.0015) (272,-0.0020) (273,-0.0034) (274,-0.0035) (275,-0.00345) (276,-0.0031) (277,-0.0028) (278,-0.0026) (279,-0.0023) (280,-0.0022) (281,-0.0019) (282,-0.0016) (283,-0.0012) (284,-0.0009) (285,-0.0005) (286,-0.0003) (287,0.0001) (288,0.0004) (289,0.0005) (290,0.0010) (291,0.0013) (292,0.0014) (293,0.0016) (294,0.0017) (295,0.0018) (296,0.0018) (297,0.0016) (298,0.0014) (299,0.0013) (300,0.0013) (301,0.0011) (302,0.0010) (303,0.0009) (304,0.0008) (305,0.0008) (306,0.0005) (307,0.0003) (308,-0.0001) (309,-0.0003) (310,-0.0005) (311,-0.0005) (312,-0.0005) (313,-0.0005) (314,-0.0002) (315,0.0001) (316,0.0001) (317,-0.0001) (318,-0.0001) (319,-0.0002) (320,-0.0002) (321,-0.0001) (322,-0.0001) (323,-0.0001) (324,-0.0002) (325,-0.0002) (326,-0.0002) (327,-0.0002) (328,-0.0003) (329,-0.0003) (330,-0.0002) (331,-0.0003) (332,-0.0001) (333,0.0000) (334,0.000078)};
\addplot[dnred, line width=0.9pt, forget plot] coordinates {
(0,0.00119) (2.1,0.0021) (5.5,0.00256) (8.8,0.00164) (11.7,0.0005) (14.6,-0.00064) (16.5,-0.00132) (19.3,-0.00178) (22.2,-0.00201) (25.1,-0.00269) (27.9,-0.00306) (29.9,-0.00301) (32.7,-0.00247) (35.6,-0.00178) (38.5,-0.0010) (41.4,-0.00041) (44.2,0.00018) (47.1,0.00096) (50.9,0.00187) (54.8,0.00301) (56.2,0.00315) (58.6,0.00187) (61.5,0.0005) (64.3,-0.00064) (67.2,-0.00141) (70.1,-0.00119) (72.9,-0.00087) (75.8,-0.00055) (78.7,-0.00018) (81.5,0.00005) (84.4,0.00027) (87.3,0.00005) (90.2,0.00005) (93,-0.00041) (95.9,-0.0010) (98.8,-0.0010) (100.7,-0.00087) (102.6,-0.00018) (104.5,0.00073) (106.4,0.00164) (109.3,0.00219) (112.2,0.00279) (115,0.00338) (117.9,0.00384) (120.8,0.00429) (123.7,0.00493) (126.5,0.00461) (129.4,0.00402) (132.3,0.00402) (135.1,0.00393) (138,0.00384) (140.9,0.0037) (143.7,0.00338) (146.6,0.00301) (149.3,0.00279)
(153,0.0029) (157,0.0018) (161,0.0011) (164,0.0003) (170,-0.0006) (175,-0.0011) (181,-0.00105) (186,-0.0003) (192,0.00096) (197,0.0024) (203,0.0036) (208,0.0038) (214,0.0032) (219,0.0020) (225,0.0005) (230,-0.0007) (236,-0.0012) (241,-0.0008) (247,-0.0001) (252,0.0009) (256,0.0014) (260,0.0013) (266,0.0009) (268,0.0006) (271,-0.0005) (274,-0.0025) (277,-0.0052) (280,-0.0072) (282,-0.0084) (285,-0.0085) (289,-0.0073) (295,-0.0052) (300,-0.0035) (305,-0.0027) (309,-0.0026) (313,-0.0030) (318,-0.0035) (324,-0.0039) (329,-0.0045) (334,-0.004697)};
\addplot[black, line width=0.9pt, forget plot] coordinates {
(0,0.00256) (1.4,0.00338) (3.3,0.00361) (4.5,0.00324) (6.1,0.00233) (7.4,0.00119) (8.8,0.00027) (10.7,-0.00018) (12.7,-0.0010) (14.6,-0.00201) (16.5,-0.00269) (18.9,-0.00233) (20.8,-0.00233) (22.2,-0.00269) (24.1,-0.00324) (26.5,-0.00347) (28.4,-0.00338) (30.8,-0.00269) (32.3,-0.00201) (34.7,-0.00155) (36.1,-0.00018) (37.5,0.00037) (39.4,0.0005) (41.4,0.00073) (43.3,0.00119) (45.2,0.00187) (47.1,0.00256) (49,0.00315) (51.4,0.00324) (53.3,0.0037) (54.8,0.00384) (55.7,0.00301) (57.6,0.00096) (59.5,-0.00064) (61.5,-0.00132) (63.4,-0.00178) (65.1,-0.00269) (67.2,-0.00155) (69.1,-0.0010) (72,-0.00087) (73.9,-0.00041) (75.8,-0.00018) (78.7,0.00027) (80.6,0.00073) (82.5,0.00082) (84.4,0.0005) (86.3,0.00005) (88.2,-0.00009) (90.2,0.00018) (92.1,-0.00064) (94,-0.00132) (95.4,-0.00178) (96.9,-0.00119) (98.8,-0.00087) (100.7,-0.00064) (102.1,0.0005) (103.1,0.00164) (105,0.00279) (107.4,0.00324) (110.3,0.00347) (113.1,0.00402) (116,0.00425) (118.9,0.00461) (120.8,0.00521) (122.7,0.00539) (124.6,0.00493) (126.5,0.00402) (128.9,0.00356) (131.3,0.00393) (134.2,0.00416) (137,0.00402) (139.9,0.0037) (142.8,0.00324) (145.2,0.00265) (149.3,0.00265)
(150,0.0027) (153.3,0.00226) (157.4,0.00075) (161.5,0) (164.3,-0.00075) (169.8,-0.00151) (175.3,-0.00151) (180.8,-0.00075) (186.3,0.00075) (191.8,0.00226) (197.3,0.0037) (202.8,0.00482) (208.3,0.00452) (213.8,0.00301) (219.3,0.00121) (224.8,-0.00075) (230.3,-0.00181) (235.8,-0.00151) (241.3,-0.0003) (246.8,0.00075) (252.3,0.00196) (256.4,0.00226) (260.5,0.00151) (266,0.0003) (270,-0.00075) (272,-0.0030) (273,-0.0052) (275,-0.00685) (277,-0.0080) (279,-0.0089) (282,-0.0100) (284,-0.0095) (286,-0.0086) (289,-0.0068) (291.5,-0.0052) (296,-0.0030) (302,-0.0020) (305,-0.0018) (307,-0.0023) (310,-0.0030) (313,-0.0035) (315.5,-0.0030) (318,-0.0036) (322,-0.0039) (326.5,-0.0042) (329,-0.0048) (332,-0.0048) (334,-0.004618)};
\addplot[black, line width=2pt, forget plot] coordinates {(282,-0.0100) (345,-0.00425)};
\node[anchor=west, inner sep=0pt, font=\lbl] at (axis cs:419.425,0.00548) [xshift=7pt] {0.006286};
\node[anchor=west, inner sep=0pt, font=\lbl] at (axis cs:419.425,0) [xshift=7pt] {0.00};
\node[anchor=west, inner sep=0pt, font=\lbl] at (axis cs:419.425,-0.01014) [xshift=7pt] {-0.010977};
\end{axis}

% window captions
\node[anchor=west, inner sep=0pt, font=\lbl] at (6pt,-12pt) {{\dejavu\fontsize{6}{6}\selectfont ▼}\ \ USDCAD,H4\ \ 1.20129 1.20358 1.20087 1.20301};
\node[anchor=center, inner sep=0pt, text=gridgray, font=\dejavu\fontsize{7}{7}\selectfont] at (1342pt,-5pt) {▼};
\node[anchor=west, inner sep=0pt, font=\lbl] at (7pt,-510pt) {RSI(14) 39.1560};
\node[anchor=west, inner sep=0pt, font=\lbl] at (7pt,-644pt) {FXBay - MACD (12,26,9) -0.004618 -0.004697 0.000078};
\end{tikzpicture}
\end{document}
